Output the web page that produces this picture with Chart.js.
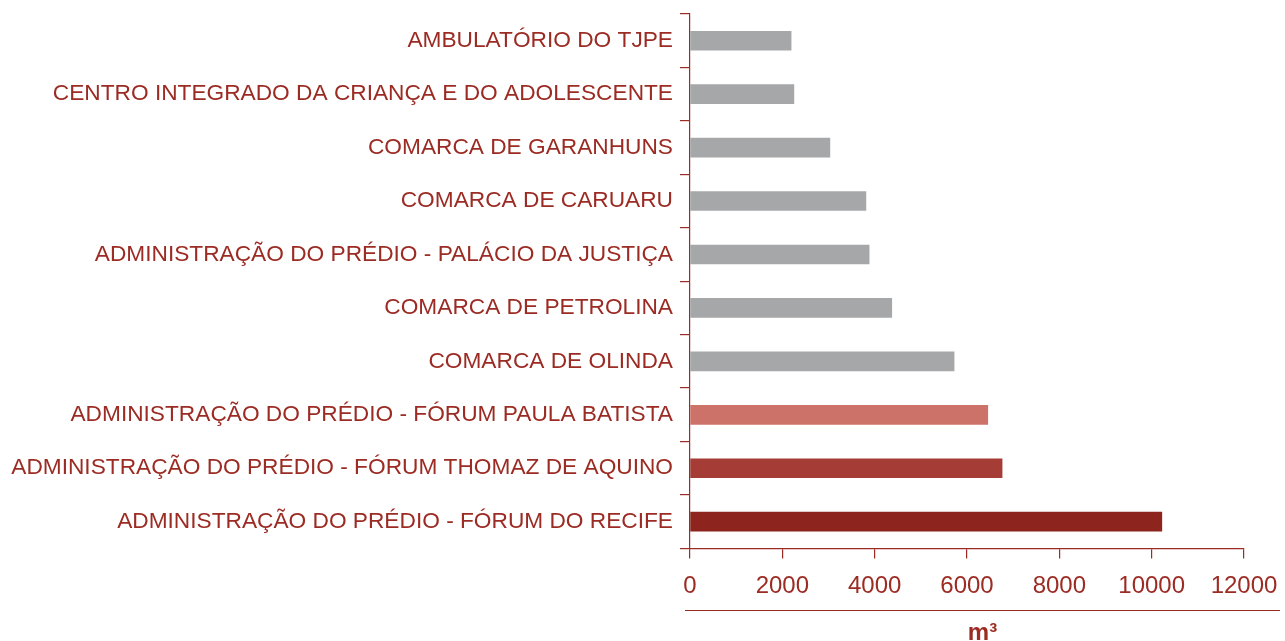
<!DOCTYPE html>
<html>
<head>
<meta charset="utf-8">
<script src="https://cdn.jsdelivr.net/npm/chart.js@4"></script>
<style>
  html, body { margin: 0; padding: 0; background: #fff; overflow: hidden; }
  #wrap { width: 1285px; height: 648px; position: relative; }
</style>
</head>
<body>
<div id="wrap"><canvas id="consumoChart"></canvas></div>
<script>
const categories = [
    'AMBULATÓRIO DO TJPE',
    'CENTRO INTEGRADO DA CRIANÇA E DO ADOLESCENTE',
    'COMARCA DE GARANHUNS',
    'COMARCA DE CARUARU',
    'ADMINISTRAÇÃO DO PRÉDIO - PALÁCIO DA JUSTIÇA',
    'COMARCA DE PETROLINA',
    'COMARCA DE OLINDA',
    'ADMINISTRAÇÃO DO PRÉDIO - FÓRUM PAULA BATISTA',
    'ADMINISTRAÇÃO DO PRÉDIO - FÓRUM THOMAZ DE AQUINO',
    'ADMINISTRAÇÃO DO PRÉDIO - FÓRUM DO RECIFE'
];
const consumo = [2190, 2250, 3030, 3810, 3880, 4370, 5720, 6450, 6760, 10220];
const barColors = ['#a6a7a9', '#a6a7a9', '#a6a7a9', '#a6a7a9', '#a6a7a9',
    '#a6a7a9', '#a6a7a9', '#cc7268', '#a53c35', '#8d241d'];
const xMin = 0;
const xMax = 12000;
const xStep = 2000;
const unitLabel = 'm³';

const red = '#9b2b23';

// linha horizontal abaixo dos valores do eixo, com a unidade "m³" centrada
const unitLine = {
    id: 'unitLine',
    afterDraw(chart) {
        const c = chart.ctx;
        const x0 = chart.chartArea.left - 5;
        const x1 = chart.width - 5;
        c.save();
        c.strokeStyle = red;
        c.lineWidth = 1.2;
        c.beginPath();
        c.moveTo(x0, 610.5);
        c.lineTo(x1, 610.5);
        c.stroke();

        c.fillStyle = red;
        c.font = 'bold 24px "Liberation Sans", Arial, sans-serif';
        c.textAlign = 'center';
        c.textBaseline = 'alphabetic';
        c.fillText(unitLabel, (x0 + x1) / 2, 640);
        c.restore();
    }
};

const ctx = document.getElementById('consumoChart').getContext('2d');
const chart = new Chart(ctx, {
    type: 'bar',
    data: {
        labels: categories,
        datasets: [{
            data: consumo,
            backgroundColor: barColors,
            borderWidth: 0,
            barThickness: 19
        }]
    },
    options: {
        indexAxis: 'y',
        responsive: true,
        maintainAspectRatio: false,
        animation: false,
        layout: { padding: { top: 14, right: 0, left: 0, bottom: 32.8 } },
        plugins: {
            legend: { display: false },
            tooltip: { enabled: false }
        },
        scales: {
            x: {
                min: xMin,
                max: xMax,
                afterFit(scale) { scale.paddingRight = 41; },
                ticks: {
                    stepSize: xStep,
                    color: red,
                    padding: 14,
                    callback: (v) => String(v),
                    font: { family: 'Liberation Sans, Arial, sans-serif', size: 24 }
                },
                grid: {
                    drawOnChartArea: false,
                    drawTicks: true,
                    tickLength: 10,
                    color: red,
                    lineWidth: 1.2
                },
                border: { color: red, width: 1.2 }
            },
            y: {
                afterFit(scale) {
                    scale.width = 690;
                    scale.paddingTop = 0;
                    scale.paddingBottom = 0;
                },
                ticks: {
                    color: red,
                    padding: 7,
                    font: { family: 'Liberation Sans, Arial, sans-serif', size: 22.7 }
                },
                grid: {
                    drawOnChartArea: false,
                    drawTicks: true,
                    tickLength: 10,
                    color: red,
                    lineWidth: 1.2
                },
                border: { color: red, width: 1.2 }
            }
        }
    },
    plugins: [unitLine]
});
</script>
</body>
</html>
